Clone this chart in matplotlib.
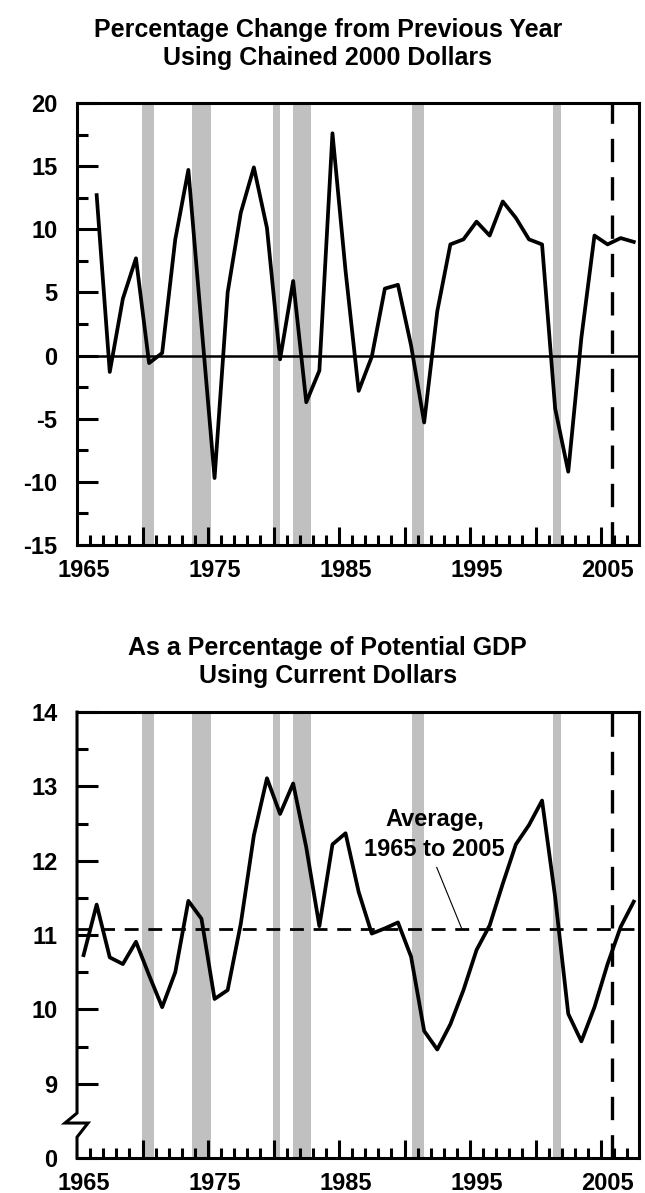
import numpy as np
import matplotlib
matplotlib.use('Agg')
import matplotlib.pyplot as plt

plt.rcParams['font.family'] = ['Liberation Sans', 'DejaVu Sans']
plt.rcParams['font.weight'] = 'bold'
plt.rcParams['axes.unicode_minus'] = False

# top panel: percentage change from previous year (chained 2000 dollars)
years_top = list(range(1966, 2008))
pct_change = [12.7, -1.3, 4.5, 7.7, -0.6, 0.2, 9.2, 14.7, 2.4, -9.7,
              5.0, 11.3, 14.9, 10.1, -0.3, 5.9, -3.7, -1.2, 17.6, 6.7,
              -2.8, -0.1, 5.3, 5.6, 0.8, -5.3, 3.5, 8.8, 9.2, 10.6,
              9.5, 12.2, 10.9, 9.2, 8.8, -4.2, -9.2, 1.4, 9.5, 8.8,
              9.3, 9.0]

# bottom panel: percentage of potential GDP (current dollars)
years_bot = list(range(1965, 2008))
pct_gdp = [10.73, 11.41, 10.70, 10.61, 10.91, 10.46, 10.03, 10.50, 11.46, 11.22,
           10.14, 10.26, 11.15, 12.34, 13.11, 12.63, 13.04, 12.18, 11.12, 12.22,
           12.37, 11.58, 11.02, 11.09, 11.17, 10.71, 9.71, 9.46, 9.80, 10.26,
           10.80, 11.13, 11.69, 12.22, 12.48, 12.81, 11.51, 9.94, 9.57, 10.03,
           10.61, 11.11, 11.45]
average_gdp = 11.08

# recession shading (start, end) on the plot's year scale
recessions = [(1969.47, 1970.37), (1973.29, 1974.69), (1979.43, 1979.98),
              (1981.02, 1982.33), (1990.05, 1990.96), (2000.80, 2001.45)]
projection_start = 2005.35

label_years = [1965, 1975, 1985, 1995, 2005]

fig = plt.figure(figsize=(6.45, 11.93), dpi=100)
ax1 = fig.add_axes([0.1194, 0.5432, 0.8713, 0.3705])
ax2 = fig.add_axes([0.1194, 0.0293, 0.8713, 0.3738])

fs = 17
tfs = 18
for ax in (ax1, ax2):
    for s, e in recessions:
        ax.axvspan(s, e, color='#c0c0c0', lw=0, zorder=0)
    ax.axvline(projection_start, color='black', lw=2.4, dashes=(7, 4.5), zorder=2)
    ax.set_xlim(1964.5, 2007.4)
    ax.set_xticks(np.arange(1969.5, 2005, 5))
    ax.set_xticks(np.arange(1965.5, 2007, 1), minor=True)
    ax.tick_params(axis='x', which='major', direction='in', length=13, width=2.2, labelbottom=False)
    ax.tick_params(axis='x', which='minor', direction='in', length=7, width=2.2)
    ax.tick_params(axis='y', which='major', direction='in', length=15, width=2.2,
                   labelsize=fs, pad=14)
    ax.tick_params(axis='y', which='minor', direction='in', length=8, width=2.2)
    for sp in ax.spines.values():
        sp.set_linewidth(2.2)
    for yr in label_years:
        ax.annotate(str(yr), (yr, 0), xycoords=('data', 'axes fraction'),
                    xytext=(0, -10), textcoords='offset points',
                    ha='center', va='top', fontsize=fs, fontweight='bold')

# top chart
ax1.plot(years_top, pct_change, color='black', lw=2.7, zorder=3)
ax1.axhline(0, color='black', lw=1.8, zorder=2)
ax1.set_ylim(-15, 20)
ax1.set_yticks(np.arange(-15, 21, 5))
ax1.set_yticks(np.arange(-12.5, 20, 5), minor=True)

# bottom chart, with axis break below 9
ax2.plot(years_bot, pct_gdp, color='black', lw=2.7, zorder=3)
ax2.axhline(average_gdp, color='black', lw=2.0, dashes=(5, 3.5), zorder=2)
ax2.set_ylim(8, 14)
ax2.set_yticks([8, 9, 10, 11, 12, 13, 14], ['0', '9', '10', '11', '12', '13', '14'])
ax2.set_yticks(np.arange(9.5, 14, 1), minor=True)
ax2.spines['left'].set_visible(False)
ax2.plot([0, 0, -0.0214, 0.0196, 0, 0], [1, 0.1009, 0.0785, 0.0785, 0.047, 0],
         transform=ax2.transAxes, color='black', lw=2.2, clip_on=False,
         solid_joinstyle='miter', zorder=5)

for ax in (ax1, ax2):
    for lab in ax.get_yticklabels():
        lab.set_fontweight('bold')

ax2.text(1991.8, 12.56, 'Average,', ha='center', va='center', fontsize=fs, fontweight='bold')
ax2.text(1991.8, 12.15, '1965 to 2005', ha='center', va='center', fontsize=fs, fontweight='bold')
ax2.plot([1991.96, 1993.86], [11.91, 11.09], color='black', lw=0.8, zorder=3)

fig.text(0.508, 1 - 37 / 1193, 'Percentage Change from Previous Year',
         ha='center', va='baseline', fontsize=tfs, fontweight='bold')
fig.text(0.508, 1 - 65 / 1193, 'Using Chained 2000 Dollars',
         ha='center', va='baseline', fontsize=tfs, fontweight='bold')
fig.text(0.508, 1 - 655 / 1193, 'As a Percentage of Potential GDP',
         ha='center', va='baseline', fontsize=tfs, fontweight='bold')
fig.text(0.508, 1 - 683 / 1193, 'Using Current Dollars',
         ha='center', va='baseline', fontsize=tfs, fontweight='bold')

fig.savefig('out.png', dpi=100)
